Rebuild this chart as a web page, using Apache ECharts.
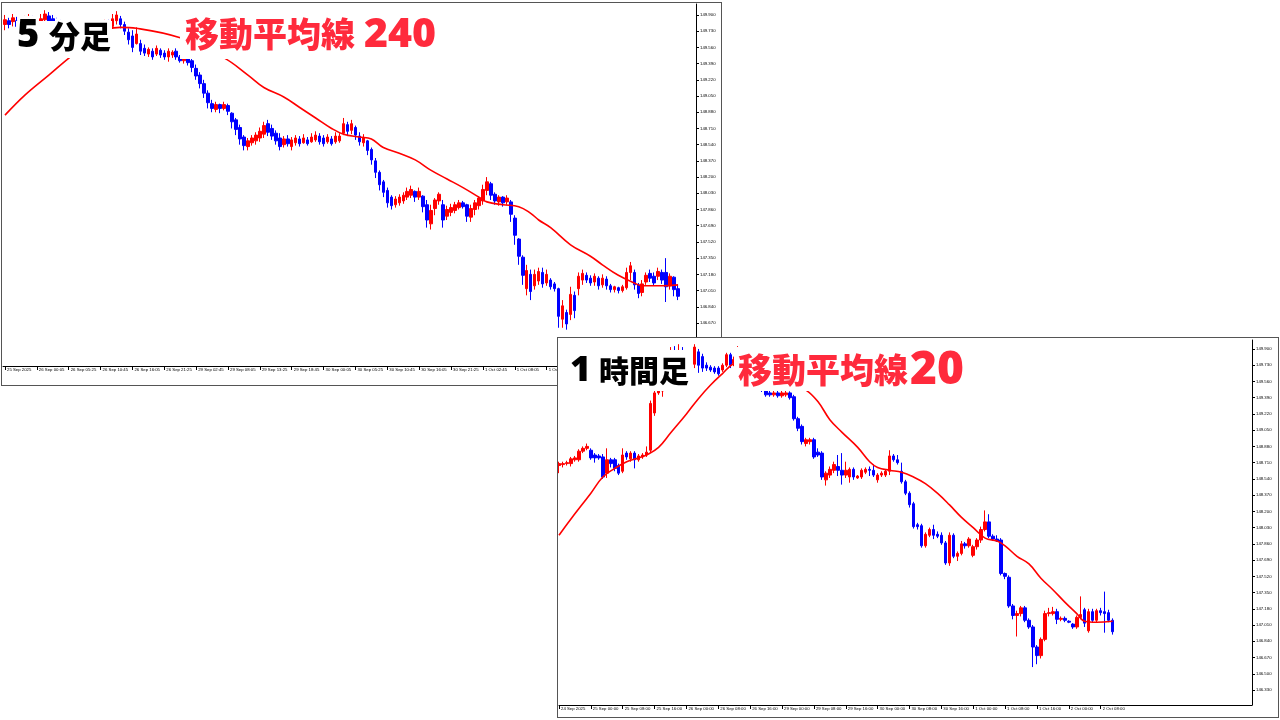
<!DOCTYPE html>
<html><head><meta charset="utf-8">
<script src="https://cdn.jsdelivr.net/npm/echarts@6.0.0/dist/echarts.min.js"></script>
<style>
html,body{margin:0;padding:0;background:#fff;width:1280px;height:720px;overflow:hidden;}
#c1{position:absolute;left:1px;top:2px;width:719px;height:382px;border:1px solid #555;background:#fff;}
#c2{position:absolute;left:557px;top:337px;width:720px;height:379px;border:1px solid #555;background:#fff;z-index:5;}
</style></head>
<body>
<div id="c1"></div><div id="c2"></div>
<script>
// ---------- tick labels ----------
const priceTicks = [149.900,149.730,149.560,149.390,149.220,149.050,148.880,148.710,148.540,148.370,148.200,148.030,147.860,147.690,147.520,147.350,147.180,147.010,146.840,146.670,146.500,146.330];
const m5TimeLabels = ["25 Sep 2025","26 Sep 00:05","26 Sep 05:25","26 Sep 10:45","26 Sep 16:05","26 Sep 21:25","29 Sep 02:45","29 Sep 08:05","29 Sep 13:25","29 Sep 18:45","30 Sep 00:05","30 Sep 05:25","30 Sep 10:45","30 Sep 16:05","30 Sep 21:25","1 Oct 02:45","1 Oct 08:05","1 Oct 13:25","1 Oct 18:45","2 Oct 00:05","2 Oct 05:25"];
const h1TimeLabels = ["24 Sep 2025","25 Sep 00:00","25 Sep 08:00","25 Sep 16:00","26 Sep 00:00","26 Sep 08:00","26 Sep 16:00","29 Sep 00:00","29 Sep 08:00","29 Sep 16:00","30 Sep 00:00","30 Sep 08:00","30 Sep 16:00","1 Oct 00:00","1 Oct 08:00","1 Oct 16:00","2 Oct 00:00","2 Oct 08:00"];

// ---------- 5-minute chart (each entry = 8 bars), [open, close, low, high] ----------
const m5Ohlc = [
[149.80,149.85,149.74,149.90],[149.84,149.80,149.76,149.87],[149.83,149.87,149.78,149.91],[149.84,149.78,149.74,149.88],
[149.83,149.78,149.74,149.87],[149.78,149.84,149.76,149.89],[149.82,149.87,149.78,149.91],[149.85,149.80,149.76,149.89],
[149.83,149.78,149.74,149.87],[149.80,149.86,149.78,149.91],[149.85,149.91,149.81,149.95],[149.89,149.81,149.76,149.93],
[149.86,149.78,149.74,149.90],[149.83,149.76,149.72,149.87],[149.81,149.74,149.70,149.85],[149.79,149.72,149.68,149.83],
[149.76,149.70,149.66,149.80],[149.73,149.68,149.64,149.76],[149.69,149.75,149.66,149.78],[149.73,149.68,149.64,149.76],
[149.71,149.66,149.62,149.74],[149.67,149.72,149.64,149.76],[149.69,149.75,149.66,149.78],[149.71,149.77,149.68,149.81],
[149.73,149.79,149.70,149.83],[149.75,149.81,149.72,149.85],[149.81,149.75,149.72,149.85],[149.78,149.86,149.76,149.91],
[149.84,149.90,149.80,149.94],[149.86,149.80,149.76,149.89],[149.80,149.73,149.69,149.83],[149.72,149.64,149.59,149.76],
[149.68,149.56,149.51,149.74],[149.60,149.70,149.59,149.77],[149.60,149.52,149.48,149.64],[149.55,149.50,149.47,149.59],
[149.49,149.54,149.46,149.56],[149.52,149.46,149.43,149.55],[149.49,149.55,149.47,149.58],[149.53,149.48,149.45,149.55],
[149.50,149.46,149.43,149.53],[149.46,149.52,149.41,149.55],[149.48,149.51,149.45,149.53],[149.52,149.46,149.43,149.55],
[149.46,149.42,149.40,149.48],[149.42,149.45,149.39,149.47],[149.45,149.40,149.37,149.47],[149.42,149.35,149.30,149.45],
[149.34,149.26,149.22,149.38],[149.27,149.18,149.13,149.30],[149.18,149.08,149.03,149.22],[149.08,148.98,148.92,149.11],
[148.97,148.92,148.88,149.01],[148.91,148.96,148.88,148.99],[148.96,148.92,148.87,148.97],[148.92,148.96,148.90,148.99],
[148.95,148.89,148.85,148.97],[148.87,148.78,148.71,148.88],[148.80,148.70,148.64,148.82],[148.72,148.60,148.54,148.75],
[148.62,148.53,148.48,148.64],[148.52,148.58,148.48,148.61],[148.56,148.61,148.53,148.64],[148.58,148.64,148.54,148.67],
[148.61,148.68,148.57,148.72],[148.65,148.74,148.61,148.78],[148.76,148.67,148.63,148.80],[148.71,148.63,148.59,148.75],
[148.66,148.58,148.54,148.69],[148.61,148.52,148.48,148.66],[148.54,148.60,148.51,148.63],[148.60,148.55,148.52,148.64],
[148.52,148.59,148.48,148.62],[148.56,148.61,148.53,148.64],[148.60,148.55,148.52,148.63],[148.56,148.61,148.55,148.65],
[148.59,148.55,148.53,148.62],[148.57,148.62,148.56,148.66],[148.59,148.64,148.57,148.68],[148.63,148.57,148.54,148.66],
[148.61,148.55,148.52,148.64],[148.57,148.62,148.55,148.65],[148.60,148.55,148.53,148.63],[148.57,148.63,148.55,148.67],
[148.58,148.63,148.56,148.66],[148.66,148.76,148.64,148.82],[148.75,148.68,148.63,148.78],[148.69,148.76,148.65,148.80],
[148.72,148.64,148.59,148.74],[148.63,148.57,148.53,148.67],[148.56,148.61,148.52,148.65],[148.58,148.48,148.43,148.59],
[148.49,148.38,148.33,148.51],[148.37,148.25,148.19,148.40],[148.25,148.12,148.06,148.27],[148.15,148.04,147.99,148.17],
[148.06,147.93,147.88,148.09],[147.99,147.90,147.86,148.01],[147.91,147.97,147.88,148.00],[147.93,147.99,147.90,148.02],
[147.95,148.01,147.92,148.04],[147.99,148.05,147.96,148.09],[148.01,148.07,147.98,148.11],[148.05,147.99,147.94,148.06],
[147.99,148.05,147.96,148.09],[148.00,147.89,147.83,148.01],[147.91,147.75,147.67,147.96],[147.71,147.85,147.65,147.91],
[147.87,147.96,147.80,147.98],[147.95,148.02,147.91,148.04],[147.91,147.75,147.67,147.96],[147.79,147.86,147.75,147.90],
[147.83,147.88,147.79,147.92],[147.85,147.91,147.82,147.94],[147.88,147.93,147.86,147.96],[147.93,147.89,147.87,147.95],
[147.91,147.79,147.73,147.92],[147.78,147.87,147.73,147.91],[147.86,147.93,147.80,147.96],[147.90,147.98,147.86,148.00],
[147.95,148.07,147.91,148.12],[148.06,148.15,148.01,148.20],[148.13,148.01,147.96,148.15],[148.02,147.95,147.91,148.04],
[147.94,147.99,147.90,148.01],[147.99,147.93,147.89,148.00],[147.94,147.98,147.91,148.01],[147.94,147.81,147.73,147.96],
[147.77,147.59,147.49,147.80],[147.55,147.37,147.28,147.56],[147.36,147.17,147.07,147.38],[147.03,147.22,146.96,147.28],
[147.18,147.00,146.91,147.23],[147.06,147.18,147.02,147.23],[147.11,147.21,147.07,147.25],[147.20,147.08,147.04,147.25],
[147.09,147.18,147.06,147.23],[147.12,147.05,147.02,147.14],[147.08,147.03,147.00,147.10],[147.03,146.74,146.62,147.04],
[146.71,146.85,146.62,146.91],[146.78,146.66,146.60,146.81],[146.76,146.97,146.70,147.05],[146.96,146.80,146.72,147.00],
[147.03,147.16,146.96,147.20],[147.12,147.19,147.07,147.23],[147.17,147.12,147.09,147.20],[147.14,147.09,147.06,147.17],
[147.10,147.16,147.06,147.19],[147.14,147.06,147.02,147.16],[147.07,147.14,147.04,147.18],[147.13,147.06,147.02,147.16],
[147.06,147.02,146.99,147.08],[147.02,147.05,146.99,147.06],[147.04,147.01,146.98,147.05],[147.01,147.05,146.99,147.07],
[147.04,147.20,147.02,147.25],[147.20,147.27,147.12,147.31],[147.20,147.07,147.02,147.23],[147.07,146.98,146.93,147.09],
[146.99,147.08,146.95,147.12],[147.10,147.17,147.07,147.20],[147.19,147.14,147.10,147.23],[147.16,147.09,147.06,147.20],
[147.16,147.21,147.12,147.25],[147.20,147.12,147.08,147.23],[147.20,147.05,146.89,147.35],[147.06,147.16,147.02,147.19],
[147.15,147.02,146.95,147.16],[147.03,146.95,146.91,147.07]
];
// MA240 read at [bucket index, price]
const m5Ma240 = [[0,148.85],[5,149.06],[11,149.27],[17,149.48],[26,149.75],[29,149.77],[33,149.76],[44,149.66],[55,149.45],[61,149.27],[65,149.14],[70,149.04],[74,148.93],[78,148.82],[82,148.71],[85,148.65],[89,148.62],[92,148.60],[95,148.51],[99,148.45],[103,148.38],[107,148.27],[111,148.18],[115,148.09],[119,147.99],[121,147.94],[125,147.91],[129,147.89],[132,147.82],[134,147.75],[137,147.67],[142,147.49],[147,147.37],[150,147.28],[154,147.17],[158,147.09],[160,147.06],[165,147.06],[169,147.07]];

// ---------- 1-hour chart, [open, close, low, high] ----------
const h1Ohlc = [
[148.68,148.70,148.60,148.72],[148.69,148.70,148.66,148.72],[148.70,148.71,148.68,148.73],[148.70,148.75,148.67,148.77],
[148.74,148.76,148.72,148.78],[148.74,148.83,148.72,148.85],[148.83,148.86,148.81,148.88],[148.86,148.88,148.84,148.91],
[148.84,148.76,148.74,148.86],[148.79,148.76,148.71,148.81],[148.78,148.76,148.74,148.80],[148.77,148.56,148.54,148.80],
[148.60,148.74,148.55,148.86],[148.74,148.70,148.66,148.76],[148.74,148.65,148.62,148.76],[148.68,148.60,148.58,148.70],
[148.62,148.79,148.60,148.86],[148.81,148.77,148.74,148.83],[148.75,148.81,148.72,148.83],[148.81,148.74,148.65,148.83],
[148.74,148.78,148.72,148.80],[148.77,148.79,148.75,148.81],[148.79,148.82,148.77,148.88],[148.84,149.33,148.82,149.36],
[149.23,149.44,149.20,149.48],[149.44,149.46,149.42,149.48],[149.46,149.62,149.40,149.66],[149.62,149.80,149.58,149.84],
[149.80,149.85,149.74,149.92],[149.85,149.80,149.76,149.93],[149.80,149.88,149.77,149.95],[149.88,149.84,149.80,149.92],
[149.84,149.78,149.74,149.88],[149.78,149.74,149.70,149.82],[149.74,149.92,149.70,149.95],[149.87,149.73,149.65,149.90],
[149.82,149.70,149.66,149.85],[149.73,149.70,149.67,149.76],[149.71,149.68,149.66,149.73],[149.70,149.66,149.64,149.72],
[149.70,149.64,149.62,149.72],[149.68,149.73,149.66,149.75],[149.73,149.84,149.71,149.86],[149.84,149.73,149.70,149.86],
[149.75,149.79,149.72,149.82],[149.79,149.88,149.76,149.93],[149.88,149.72,149.68,149.90],[149.72,149.58,149.52,149.75],
[149.58,149.55,149.50,149.62],[149.55,149.52,149.48,149.60],[149.52,149.55,149.47,149.58],[149.55,149.50,149.45,149.58],
[149.47,149.42,149.40,149.50],[149.44,149.42,149.40,149.46],[149.42,149.44,149.40,149.46],[149.44,149.41,149.39,149.46],
[149.41,149.44,149.39,149.46],[149.42,149.44,149.40,149.46],[149.44,149.39,149.37,149.46],[149.40,149.17,149.15,149.42],
[149.17,149.07,149.04,149.19],[149.09,148.93,148.90,149.11],[148.91,148.95,148.88,148.97],[148.93,148.95,148.90,148.97],
[148.95,148.77,148.75,148.97],[148.82,148.79,148.77,148.86],[148.81,148.56,148.53,148.83],[148.53,148.60,148.47,148.62],
[148.58,148.64,148.55,148.67],[148.63,148.69,148.60,148.72],[148.67,148.63,148.57,148.79],[148.63,148.58,148.48,148.81],
[148.58,148.63,148.55,148.72],[148.56,148.64,148.50,148.66],[148.64,148.56,148.53,148.66],[148.55,148.57,148.54,148.58],
[148.56,148.63,148.54,148.65],[148.61,148.64,148.59,148.66],[148.64,148.63,148.57,148.67],[148.63,148.58,148.56,148.69],
[148.53,148.58,148.50,148.60],[148.58,148.60,148.56,148.62],[148.58,148.62,148.56,148.64],[148.62,148.78,148.58,148.84],
[148.78,148.74,148.72,148.80],[148.74,148.71,148.69,148.79],[148.62,148.51,148.49,148.71],[148.51,148.39,148.37,148.53],
[148.39,148.27,148.24,148.41],[148.28,148.04,148.02,148.30],[148.06,148.04,148.01,148.08],[148.05,147.84,147.82,148.07],
[147.84,147.96,147.82,147.98],[147.95,148.01,147.93,148.03],[148.01,147.95,147.91,148.06],[147.96,147.94,147.92,147.99],
[147.95,147.87,147.85,147.98],[147.87,147.66,147.64,147.89],[147.66,147.95,147.63,147.98],[147.95,147.73,147.71,147.97],
[147.73,147.76,147.68,147.78],[147.76,147.86,147.74,147.89],[147.86,147.84,147.81,147.88],[147.84,147.91,147.82,147.93],
[147.74,147.83,147.72,147.85],[147.83,147.90,147.80,147.92],[147.90,148.01,147.87,148.04],[148.01,148.09,147.99,148.21],
[148.09,147.94,147.92,148.17],[147.94,147.91,147.89,147.96],[147.91,147.89,147.88,147.95],[147.90,147.55,147.53,147.92],
[147.55,147.52,147.49,147.56],[147.51,147.21,147.19,147.53],[147.21,147.11,147.07,147.23],[147.11,147.13,146.89,147.16],
[147.13,147.19,147.10,147.21],[147.19,147.06,147.04,147.21],[147.06,146.99,146.97,147.08],[146.99,146.78,146.57,147.01],
[146.78,146.69,146.60,146.80],[146.69,146.86,146.66,146.88],[146.86,147.13,146.84,147.16],[147.13,147.14,147.10,147.19],
[147.13,147.15,147.11,147.20],[147.15,147.07,147.02,147.18],[147.07,147.08,147.05,147.10],[147.08,147.06,147.04,147.10],
[147.05,147.04,147.03,147.06],[147.02,146.99,146.97,147.03],[146.99,147.09,146.97,147.11],[147.09,147.12,147.07,147.31],
[147.17,147.03,146.99,147.19],[146.95,147.15,146.93,147.18],[147.15,147.06,147.04,147.18],[147.06,147.16,147.04,147.18],
[147.16,147.14,147.11,147.19],[147.15,147.13,146.93,147.36],[147.14,147.06,147.04,147.17],[147.06,146.94,146.91,147.08]
];
const h1Ma20 = [[0,147.95],[3,148.12],[8,148.39],[11,148.56],[14,148.65],[17,148.72],[20,148.76],[22,148.79],[25,148.87],[28,149.02],[32,149.22],[35,149.38],[38,149.52],[41,149.64],[44,149.75],[48,149.78],[55,149.62],[62,149.47],[65,149.35],[68,149.16],[71,149.03],[75,148.87],[78,148.72],[80,148.66],[83,148.63],[86,148.61],[89,148.56],[92,148.49],[95,148.39],[98,148.27],[101,148.14],[104,148.03],[107,147.92],[110,147.89],[112,147.84],[115,147.73],[118,147.65],[121,147.50],[124,147.38],[127,147.25],[130,147.13],[132,147.05],[135,147.04],[139,147.05]];

// ---------- builders ----------
function buildCats(n, labels, step){
  const c=[]; for(let i=0;i<n;i++){ c.push(i%step===0 && labels[i/step]!==undefined ? labels[i/step] : ''); } return c;
}
const axisFont = {fontSize:4.3, color:'#000', fontFamily:'"Liberation Sans", Arial, sans-serif'};
function yAxisCfg(min,max){
  return {type:'value', position:'right', min:min, max:max, scale:true,
    splitLine:{show:false},
    axisLine:{show:true, lineStyle:{color:'#000', width:1}},
    axisTick:{show:true, length:3, lineStyle:{color:'#000'}, customValues:priceTicks},
    axisLabel:Object.assign({margin:4, customValues:priceTicks, formatter:v=>Number(v).toFixed(3)}, axisFont)};
}
function xAxisCfg(cats, step, gap, nLabels){
  return {type:'category', data:cats, boundaryGap:gap,
    axisLine:{show:true, onZero:false, lineStyle:{color:'#000', width:1}},
    axisTick:{show:true, length:4, alignWithLabel:true, interval:(i)=>i%step===0 && i/step<nLabels, lineStyle:{color:'#000'}},
    axisLabel:Object.assign({interval:0, align:'left', margin:2, padding:[0,0,0,2], showMinLabel:true, showMaxLabel:true}, axisFont),
    splitLine:{show:false}};
}
function txt(x,y,t,size,fill,family){
  return {type:'text', z:100, x:x, y:y, style:{text:t, x:0, y:0, fill:fill, stroke:'#fff', lineWidth:6,
    font:'900 '+size+'px '+family, textVerticalAlign:'middle', verticalAlign:'middle', textAlign:'left', align:'left'}};
}
function box(x,y,w,h){
  return {type:'rect', z:90, shape:{x:x, y:y, width:w, height:h}, style:{fill:'#fff'}};
}
const latin = '"Noto Sans", "DejaVu Sans", sans-serif';
const cjk = '"Noto Sans CJK JP", "Noto Sans CJK SC", sans-serif';
const redText = '#ff2a3c';

// ---------- chart 1 : 5 minutes ----------
const n1 = 174;
const cats1 = buildCats(n1, m5TimeLabels, 8);
const c1 = echarts.init(document.getElementById('c1'), null, {renderer:'canvas'});
c1.setOption({
  animation:false, backgroundColor:'#fff',
  grid:{left:1, top:1, right:25, bottom:19, containLabel:false},
  xAxis:xAxisCfg(cats1, 8, true, m5TimeLabels.length),
  yAxis:yAxisCfg(146.219, 150.015),
  series:[
    {type:'candlestick', data:m5Ohlc, barWidth:3, clip:true,
      itemStyle:{color:'#ff0000', color0:'#0000ff', borderColor:'#ff0000', borderColor0:'#0000ff', borderWidth:1}},
    {type:'line', data:m5Ma240, showSymbol:false, smooth:0.4, z:5, lineStyle:{color:'#ff0000', width:1.6}}
  ],
  graphic:[
    box(14, 18, 96, 37),
    box(178, 7, 266, 49),
    txt(15, 33, '5', 38, '#000', latin),
    txt(47, 33, '分足', 31, '#000', cjk),
    txt(183, 31, '移動平均線', 34, redText, cjk),
    txt(362, 32, '240', 41, redText, latin)
  ]
});

// ---------- chart 2 : 1 hour ----------
const n2 = 175;
const cats2 = buildCats(n2, h1TimeLabels, 8);
const c2 = echarts.init(document.getElementById('c2'), null, {renderer:'canvas'});
c2.setOption({
  animation:false, backgroundColor:'#fff',
  grid:{left:0, top:2, right:26, bottom:12, containLabel:false},
  xAxis:xAxisCfg(cats2, 8, false, h1TimeLabels.length),
  yAxis:yAxisCfg(146.173, 149.994),
  series:[
    {type:'candlestick', data:h1Ohlc, barWidth:3, clip:true,
      itemStyle:{color:'#ff0000', color0:'#0000ff', borderColor:'#ff0000', borderColor0:'#0000ff', borderWidth:1}},
    {type:'line', data:h1Ma20, showSymbol:false, smooth:0.4, z:5, lineStyle:{color:'#ff0000', width:1.6}}
  ],
  graphic:[
    box(10, 12, 124, 41),
    box(176, 9, 238, 44),
    txt(12, 33, '1', 36, '#000', latin),
    txt(41, 33, '時間足', 30, '#000', cjk),
    txt(180, 32, '移動平均線', 34, redText, cjk),
    txt(352, 33, '20', 46, redText, latin)
  ]
});
</script>
</body></html>
